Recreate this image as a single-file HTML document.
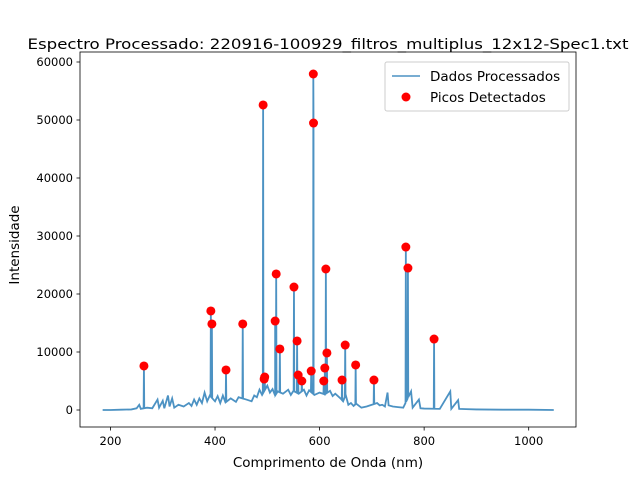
<!DOCTYPE html>
<html><head><meta charset="utf-8"><style>
body{margin:0;background:#fff;font-family:"Liberation Sans","DejaVu Sans",sans-serif}
svg text{font-family:"DejaVu Sans","Liberation Sans",sans-serif}
</style></head><body>
<svg id="chart" width="640" height="480" xmlns="http://www.w3.org/2000/svg">
<rect width="640" height="480" fill="#fff"/>
<text x="328" y="49" font-size="14.5" text-anchor="middle" textLength="601" lengthAdjust="spacingAndGlyphs">Espectro Processado: 220916-100929_filtros_multiplus_12x12-Spec1.txt</text>
<g id="plot"></g>
<rect x="80" y="52" width="496" height="375" fill="none" stroke="#000" stroke-width="0.8"/>
<g id="xt"></g><g id="yt"></g>
<text x="328" y="467" font-size="13.5" text-anchor="middle">Comprimento de Onda (nm)</text>
<text transform="translate(19,245) rotate(-90)" font-size="13.5" text-anchor="middle">Intensidade</text>
<g>
<rect x="385" y="62" width="184" height="49" rx="2" fill="#fff" fill-opacity="0.8" stroke="#ccc"/>
<line x1="392" y1="76" x2="420" y2="76" stroke="#1f77b4" stroke-opacity="0.8" stroke-width="1.5"/>
<text x="430" y="81" font-size="13.5">Dados Processados</text>
<circle cx="406" cy="97" r="4.5" fill="red"/>
<text x="430" y="102" font-size="13.5">Picos Detectados</text>
</g>
</svg>
<script>
const baseWl=[185,200,220,240,250,255,258,270,280,290,293,300,303,310,313,318,322,330,340,350,355,360,365,370,375,380,385,390,400,405,410,415,420,430,440,445,460,470,475,480,485,490,500,505,510,515,520,530,540,545,550,560,570,575,580,590,600,610,620,625,630,640,645,650,655,660,665,670,680,690,700,710,715,720,725,730,732,740,750,760,775,778,790,793,800,830,850,852,865,867,880,900,950,1000,1048];
const baseI=[0,0,50,100,300,900,200,400,300,1800,400,1600,300,2500,600,2000,400,900,600,1200,700,1800,900,2000,1200,3000,1500,2500,1500,2400,1200,2500,1300,2000,1400,2200,1800,1500,2500,2200,3500,2600,4200,3000,3600,2500,3200,2800,3500,2600,3300,2800,3500,2500,3400,2600,3000,2700,3300,2400,2800,2000,1500,2600,900,1200,700,1100,400,600,900,1200,800,900,600,3000,800,600,500,400,3200,400,1800,300,250,200,3200,200,1700,200,150,100,50,50,0];
const peakWl=[264,392,394,421,453,492,494,495,515,517,524,551,557,559,566,584,588,588.4,608,610,612,614,643,649,669,704,765,769,819];
const peakI=[7590,17070,14830,6900,14830,52590,5340,5690,15340,23450,10520,21200,11900,6030,5000,6720,57930,49480,5000,7240,24310,9830,5170,11200,7760,5170,28100,24480,12240];
const X0=141.7,X1=1090.5,Y0=-2931,Y1=61724;
const sx=v=>80+(v-X0)/(X1-X0)*496, sy=v=>427-(v-Y0)/(Y1-Y0)*375;
const ns="http://www.w3.org/2000/svg";
const plot=document.getElementById('plot');
function baseAt(w){for(let i=1;i<baseWl.length;i++){if(w<=baseWl[i]){const t=(w-baseWl[i-1])/(baseWl[i]-baseWl[i-1]);return baseI[i-1]+t*(baseI[i]-baseI[i-1]);}}return 0;}
let pts=baseWl.map((w,i)=>[w,baseI[i]]);
peakWl.forEach((w,i)=>{pts.push([w-0.6,baseAt(w-0.6)]);pts.push([w,peakI[i]]);pts.push([w+0.6,baseAt(w+0.6)]);});
pts.sort((a,b)=>a[0]-b[0]);
const path=document.createElementNS(ns,'path');
path.setAttribute('d','M'+pts.map(p=>sx(p[0]).toFixed(2)+','+sy(p[1]).toFixed(2)).join('L'));
path.setAttribute('fill','none');path.setAttribute('stroke','#1f77b4');path.setAttribute('stroke-opacity','0.8');path.setAttribute('stroke-width','1.8');


plot.appendChild(path);
peakWl.forEach((w,i)=>{const c=document.createElementNS(ns,'circle');
c.setAttribute('cx',sx(w));c.setAttribute('cy',sy(peakI[i]));c.setAttribute('r',4.5);c.setAttribute('fill','red');


plot.appendChild(c);});
const xTicks=[200,400,600,800,1000], yTicks=[0,10000,20000,30000,40000,50000,60000];
const xt=document.getElementById('xt'), yt=document.getElementById('yt');
xTicks.forEach(v=>{const x=sx(v);const l=document.createElementNS(ns,'line');
l.setAttribute('x1',x);l.setAttribute('x2',x);l.setAttribute('y1',427);l.setAttribute('y2',430.5);l.setAttribute('stroke','#000');l.setAttribute('stroke-width','0.8');


xt.appendChild(l);
const t=document.createElementNS(ns,'text');t.setAttribute('x',x);t.setAttribute('y',445);t.setAttribute('font-size','11.5');t.setAttribute('text-anchor','middle');t.textContent=v;


xt.appendChild(t);});
yTicks.forEach(v=>{const y=sy(v);const l=document.createElementNS(ns,'line');
l.setAttribute('x1',76.5);l.setAttribute('x2',80);l.setAttribute('y1',y);l.setAttribute('y2',y);l.setAttribute('stroke','#000');l.setAttribute('stroke-width','0.8');


yt.appendChild(l);
const t=document.createElementNS(ns,'text');t.setAttribute('x',73);t.setAttribute('y',y+4);t.setAttribute('font-size','11.5');t.setAttribute('text-anchor','end');t.textContent=v;


yt.appendChild(t);});
</script>
</body></html>
